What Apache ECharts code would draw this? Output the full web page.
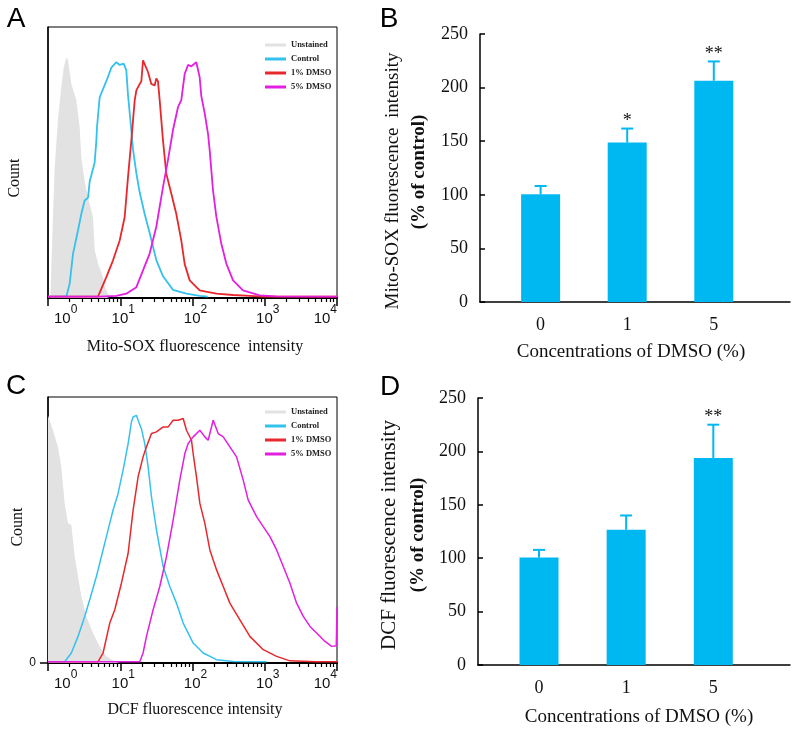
<!DOCTYPE html>
<html><head><meta charset="utf-8">
<script src="https://cdn.jsdelivr.net/npm/echarts@6/dist/echarts.min.js"></script>
<style>html,body{margin:0;padding:0;background:#fff}#c{width:796px;height:733px}</style>
</head><body><div id="c"></div>
<script>
// ---------- data ----------
const seriesNames = ['Unstained', 'Control', '1% DMSO', '5% DMSO'];
const histColors = ['#e2e2e2', '#35c1ee', '#e8282c', '#e31fe0'];
const decadeExponents = [0, 1, 2, 3, 4];
const minorMultipliers = [2, 3, 4, 5, 6, 7, 8, 9];

// Panel A (Mito-SOX) : [log10 intensity, count % of plot height]
const A_unstained = [[0.032,0],[0.046,11],[0.069,30],[0.092,48],[0.138,66],[0.185,78],[0.217,85],[0.254,88.7],[0.277,87.7],[0.323,79],[0.392,73],[0.438,63],[0.461,52],[0.508,43],[0.554,37],[0.623,30],[0.646,17.6],[0.692,12.7],[0.761,7.7],[0.807,2.8],[0.854,0.4]];
const A_control = [[0,0.5],[0.254,0.5],[0.30,5.3],[0.346,16.3],[0.415,24.9],[0.461,31],[0.507,36],[0.554,37],[0.577,43],[0.646,50],[0.669,58],[0.678,63],[0.715,74],[0.807,80],[0.877,85],[0.946,87],[0.992,86],[1.047,86.5],[1.084,84],[1.107,75],[1.153,62],[1.176,55],[1.223,46],[1.269,39],[1.338,31],[1.407,24],[1.499,14],[1.592,8],[1.730,3],[1.915,1.6],[2.10,0.8],[2.21,0.5]];
const A_dmso1 = [[0,0.5],[0.692,0.5],[0.807,7.7],[0.90,13.9],[0.992,21.2],[1.061,29.8],[1.107,44.5],[1.153,58],[1.20,72.9],[1.223,76.6],[1.269,79],[1.292,80],[1.315,87.7],[1.338,88.3],[1.384,83.4],[1.430,79],[1.476,78.4],[1.499,81],[1.522,80],[1.546,72.9],[1.592,58],[1.638,45.8],[1.707,38.5],[1.776,31],[1.845,21.2],[1.892,12.5],[1.961,6.5],[2.099,2.8],[2.330,1.6],[2.561,1.1],[2.791,0.8],[2.976,0.5],[4,0.5]];
const A_dmso5 = [[0,0.5],[0.715,0.5],[0.946,0.8],[1.084,1.6],[1.223,4],[1.315,10.2],[1.407,16.4],[1.499,26.3],[1.592,41],[1.661,51],[1.730,62],[1.799,70.4],[1.845,73],[1.892,82.7],[1.938,86],[1.984,85.5],[2.053,87],[2.099,81.5],[2.122,74.5],[2.168,68.3],[2.215,60.6],[2.238,54.5],[2.284,39.7],[2.330,30],[2.399,20],[2.468,12.7],[2.561,6.5],[2.699,2.8],[2.93,1.0],[3.16,0.6],[4,0.5]];

// Panel C (DCF)
const C_unstained = [[0,93],[0.023,92.5],[0.069,87.5],[0.139,81],[0.185,73.7],[0.231,60],[0.277,52.5],[0.323,51.9],[0.37,40],[0.416,32.5],[0.462,25],[0.531,17.5],[0.624,11.2],[0.716,6.2],[0.808,2.5],[0.924,0.6],[0.993,0]];
const C_control = [[0,0.5],[0.231,0.5],[0.323,3.75],[0.416,10],[0.508,17.5],[0.577,23.75],[0.670,32.5],[0.716,37.5],[0.808,47.5],[0.901,57.5],[0.970,63.75],[1.039,72.5],[1.109,82.5],[1.155,90.6],[1.178,92.5],[1.224,93.1],[1.247,91.25],[1.293,88.1],[1.339,82.5],[1.386,73.75],[1.432,62.5],[1.501,50],[1.594,36.25],[1.686,28.75],[1.778,22.5],[1.871,15],[2.009,7.5],[2.148,3.75],[2.333,1.25],[2.564,0.6],[3.025,0.5]];
const C_dmso1 = [[0,0.5],[0.693,0.5],[0.762,3.75],[0.855,15],[0.924,20],[1.016,30],[1.109,41.25],[1.178,57.5],[1.247,70],[1.316,77.5],[1.363,81.25],[1.432,86.25],[1.501,86.9],[1.594,88.75],[1.663,88.75],[1.732,91.25],[1.801,91.25],[1.871,91.9],[1.917,87.5],[1.986,83.75],[2.009,78.75],[2.055,70],[2.102,60],[2.171,52.5],[2.240,42.5],[2.333,35],[2.425,28.75],[2.517,22.5],[2.656,16.25],[2.794,10],[2.979,5],[3.164,2.5],[3.349,0.8],[3.718,0.5],[4,0.5]];
const C_dmso5 = [[0,0.5],[1.270,0.5],[1.316,3.75],[1.363,10],[1.455,20],[1.547,28.75],[1.640,40],[1.732,53.75],[1.824,68.75],[1.894,78.75],[1.940,82.5],[2.009,85],[2.102,87.5],[2.171,85],[2.217,83.75],[2.286,91.25],[2.356,86.25],[2.425,85],[2.517,81.25],[2.610,77.5],[2.702,68.75],[2.771,61.25],[2.887,55],[2.979,51.25],[3.072,47.5],[3.164,42.5],[3.256,36.25],[3.349,30],[3.441,22.5],[3.533,17.5],[3.626,13.75],[3.718,11.25],[3.834,8.1],[3.926,6.25],[3.99,6.5],[4.0,21]];

// Bar panels
const concCategories = ['0', '1', '5'];
const B_means = [100.4, 148.7, 206.4];
const B_upper = [108.2, 161.8, 224.4];
const B_stars = ['', '*', '**'];
const D_means = [100.6, 126.6, 193.8];
const D_upper = [107.8, 140.0, 225.0];
const D_stars = ['', '', '**'];
const barTicks = [0, 50, 100, 150, 200, 250];

// ---------- helpers ----------
const serif = "'Liberation Serif','Times New Roman',serif";
const sans = "'Liberation Sans',Arial,sans-serif";
const barColor = '#00b8f1';
const minorTickValues = [];
decadeExponents.slice(0, 4).forEach(k => minorMultipliers.forEach(m => minorTickValues.push(k + Math.log10(m))));

function histMainX(grid) {
  return {
    type: 'value', gridIndex: grid, min: 0, max: 4, interval: 1, position: 'bottom',
    axisLine: { show: true, onZero: false, lineStyle: { color: '#000', width: 2 } },
    axisTick: { show: true, inside: false, length: 8, lineStyle: { color: '#000', width: 1.5 } },
    splitLine: { show: false },
    axisLabel: {
      margin: 6, alignMinLabel: 'left', alignMaxLabel: 'right',
      formatter: v => '{p|}{b|10}{s|' + decadeExponents[Math.round(v)] + '}',
      rich: {
        p: { width: 6, lineHeight: 22 },
        b: { fontSize: 15, fontFamily: sans, color: '#111', lineHeight: 22, verticalAlign: 'bottom' },
        s: { fontSize: 12, fontFamily: sans, color: '#111', lineHeight: 22, verticalAlign: 'top' }
      }
    }
  };
}
function histMinorX(grid) {
  return {
    type: 'value', gridIndex: grid, min: 0, max: 4, position: 'bottom',
    axisLine: { show: false, onZero: false },
    axisTick: { show: true, inside: false, length: 4, customValues: minorTickValues, lineStyle: { color: '#000', width: 1.2 } },
    axisLabel: { show: false }, splitLine: { show: false }
  };
}
function histY(grid, zeroLabel) {
  return {
    type: 'value', gridIndex: grid, min: 0, max: 100,
    axisLine: { show: true, onZero: false, lineStyle: { color: '#000', width: 1.5 } },
    axisTick: zeroLabel ? { show: true, length: 8, customValues: [0], lineStyle: { color: '#000', width: 1.5 } } : { show: false },
    axisLabel: zeroLabel ? { show: true, customValues: [0], fontSize: 12, fontFamily: sans, color: '#111', margin: 12, formatter: v => v === 0 ? '0' : '' } : { show: false },
    splitLine: { show: false }
  };
}
function barX(grid) {
  return {
    type: 'value', gridIndex: grid, min: -0.7, max: 2.88,
    axisLine: { show: true, onZero: false, lineStyle: { color: '#000', width: 1.5 } },
    axisTick: { show: false }, splitLine: { show: false },
    axisLabel: {
      customValues: [0, 1, 2], margin: 14, fontSize: 18, fontFamily: serif, color: '#111',
      formatter: v => (Number.isInteger(v) && concCategories[v] !== undefined) ? concCategories[v] : ''
    }
  };
}
function barY(grid) {
  return {
    type: 'value', gridIndex: grid, min: 0, max: 250, interval: 50,
    axisLine: { show: true, onZero: false, lineStyle: { color: '#000', width: 1.5 } },
    axisTick: { show: true, inside: true, length: 5, customValues: barTicks, lineStyle: { color: '#000', width: 1.5 } },
    splitLine: { show: false },
    axisLabel: { margin: 12, fontSize: 18, fontFamily: serif, color: '#111' }
  };
}
function histSeries(xi, yi, data, idx, width) {
  const s = {
    name: seriesNames[idx], type: 'line', xAxisIndex: xi, yAxisIndex: yi, data: data,
    showSymbol: false, symbol: 'none', smooth: false, animation: false,
    itemStyle: { color: histColors[idx] },
    lineStyle: { color: histColors[idx], width: width }
  };
  if (idx === 0) {
    s.lineStyle = { width: 0, color: histColors[0] };
    s.areaStyle = { color: histColors[0], opacity: 1 };
    s.z = 1;
  }
  return s;
}
function barSeries(xi, yi, means) {
  return {
    type: 'bar', xAxisIndex: xi, yAxisIndex: yi, barWidth: 39, animation: false,
    data: means.map((m, i) => [i, m]), itemStyle: { color: barColor }, z: 2
  };
}
function errSeries(xi, yi, means, upper, stars) {
  return {
    type: 'custom', xAxisIndex: xi, yAxisIndex: yi, animation: false, z: 3,
    data: means.map((m, i) => [i, m, upper[i]]),
    renderItem: function (params, api) {
      const i = api.value(0);
      const base = api.coord([i, api.value(1)]);
      const top = api.coord([i, api.value(2)]);
      const st = { stroke: barColor, lineWidth: 2 };
      const children = [
        { type: 'line', shape: { x1: base[0], y1: base[1], x2: top[0], y2: top[1] }, style: st },
        { type: 'line', shape: { x1: top[0] - 6, y1: top[1], x2: top[0] + 6, y2: top[1] }, style: st }
      ];
      if (stars[i]) {
        children.push({ type: 'text', style: { text: stars[i], x: top[0], y: top[1] + 2, align: 'center', verticalAlign: 'bottom', fontSize: 18, fontFamily: serif, fill: '#111' } });
      }
      return { type: 'group', children: children };
    }
  };
}
function txt(x, y, text, size, opts, weight) {
  return Object.assign({
    type: 'text', x: x, y: y,
    style: { text: text, fontSize: size, fontFamily: serif, fontWeight: weight || 'normal', fill: '#111', align: 'center', verticalAlign: 'middle' }
  }, opts || {});
}
function letter(x, y, t) {
  return { type: 'text', x: x, y: y, style: { text: t, fontSize: 28, fontFamily: sans, fill: '#000', align: 'center', verticalAlign: 'middle' } };
}
function legend(top) {
  return {
    data: seriesNames, orient: 'vertical', left: 260, top: top,
    icon: 'rect', itemWidth: 21, itemHeight: 3, itemGap: 4,
    textStyle: { fontSize: 8.5, fontWeight: 'bold', fontFamily: serif, color: '#222', lineHeight: 10 },
    selectedMode: false
  };
}

// ---------- chart ----------
const chart = echarts.init(document.getElementById('c'), null, { renderer: 'canvas' });
chart.setOption({
  backgroundColor: '#fff',
  animation: false,
  grid: [
    { left: 48, top: 27, width: 289, height: 271, show: true, borderColor: '#000', borderWidth: 1, backgroundColor: 'transparent' },
    { left: 48, top: 397, width: 289, height: 266, show: true, borderColor: '#000', borderWidth: 1, backgroundColor: 'transparent' },
    { left: 480, top: 34, width: 310, height: 268 },
    { left: 478, top: 398, width: 312, height: 267 }
  ],
  xAxis: [histMainX(0), histMinorX(0), histMainX(1), histMinorX(1), barX(2), barX(3)],
  yAxis: [histY(0, false), histY(1, true), barY(2), barY(3)],
  legend: [legend(35), legend(402)],
  series: [
    histSeries(0, 0, A_unstained, 0, 0), histSeries(0, 0, A_control, 1, 1.8), histSeries(0, 0, A_dmso1, 2, 1.8), histSeries(0, 0, A_dmso5, 3, 1.8),
    histSeries(2, 1, C_unstained, 0, 0), histSeries(2, 1, C_control, 1, 1.5), histSeries(2, 1, C_dmso1, 2, 1.5), histSeries(2, 1, C_dmso5, 3, 1.5),
    barSeries(4, 2, B_means), errSeries(4, 2, B_means, B_upper, B_stars),
    barSeries(5, 3, D_means), errSeries(5, 3, D_means, D_upper, D_stars)
  ],
  graphic: [
    letter(16, 19, 'A'), letter(389, 19, 'B'), letter(16, 386, 'C'), letter(390, 387, 'D'),
    txt(15, 178, 'Count', 16, { rotation: Math.PI / 2 }),
    txt(18, 527, 'Count', 16, { rotation: Math.PI / 2 }),
    txt(195, 347, 'Mito-SOX fluorescence  intensity', 16),
    txt(195, 710, 'DCF fluorescence intensity', 16),
    txt(393, 181, 'Mito-SOX fluorescence  intensity', 19, { rotation: Math.PI / 2 }),
    txt(419, 172, '(% of control)', 19, { rotation: Math.PI / 2 }, 'bold'),
    txt(389, 535, 'DCF fluorescence intensity', 21, { rotation: Math.PI / 2 }),
    txt(418, 535, '(% of control)', 19, { rotation: Math.PI / 2 }, 'bold'),
    txt(631, 352, 'Concentrations of DMSO (%)', 19),
    txt(639, 717, 'Concentrations of DMSO (%)', 19)
  ]
});
</script>
</body></html>
